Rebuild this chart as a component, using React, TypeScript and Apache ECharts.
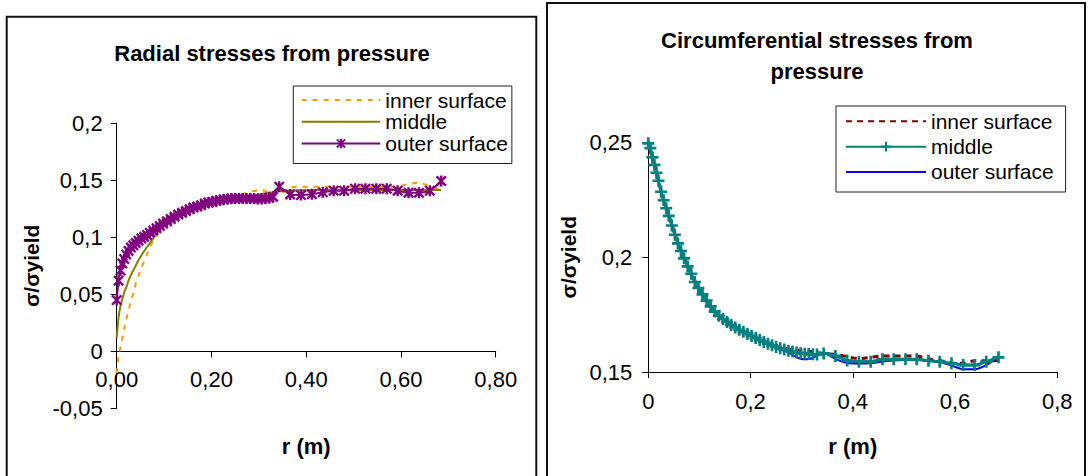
import { useEffect, useRef } from "react";
import * as echarts from "echarts";

const FONT = '"Liberation Sans", Arial, sans-serif';

// radius values (m), shared by both charts
const R = [
  0, 0.004, 0.008, 0.012, 0.016, 0.02, 0.025, 0.03,
  0.035, 0.04, 0.046, 0.052, 0.058, 0.064, 0.07, 0.077,
  0.084, 0.091, 0.098, 0.106, 0.114, 0.122, 0.13, 0.138,
  0.146, 0.154, 0.162, 0.17, 0.178, 0.186, 0.194, 0.202,
  0.21, 0.218, 0.226, 0.234, 0.242, 0.25, 0.258, 0.266,
  0.274, 0.282, 0.29, 0.298, 0.306, 0.314, 0.322, 0.33,
  0.343, 0.366, 0.389, 0.412, 0.435, 0.458, 0.48, 0.503,
  0.525, 0.548, 0.57, 0.593, 0.616, 0.638, 0.661, 0.685,
];

const SERIES_NAMES = ["inner surface", "middle", "outer surface"];

// Radial stresses from pressure
const RADIAL_INNER = [
  -0.019, -0.004, 0.004, 0.012, 0.02, 0.028, 0.036, 0.044,
  0.051, 0.059, 0.066, 0.073, 0.079, 0.085, 0.0915, 0.097,
  0.101, 0.1065, 0.11, 0.1145, 0.117, 0.119, 0.121, 0.1225,
  0.124, 0.125, 0.1265, 0.1275, 0.1285, 0.1295, 0.1305, 0.1315,
  0.1325, 0.133, 0.134, 0.1345, 0.135, 0.136, 0.137, 0.138,
  0.139, 0.1395, 0.1405, 0.141, 0.1412, 0.1405, 0.138, 0.136,
  0.137, 0.1435, 0.1443, 0.1443, 0.1443, 0.1443, 0.1443, 0.1443,
  0.1443, 0.1443, 0.1443, 0.1443, 0.1467, 0.1478, 0.1445, 0.142,
];
const RADIAL_MIDDLE = [
  0.012, 0.03, 0.04, 0.046, 0.052, 0.056, 0.062, 0.067,
  0.071, 0.075, 0.08, 0.084, 0.088, 0.0915, 0.095, 0.099,
  0.1035, 0.107, 0.1105, 0.113, 0.115, 0.117, 0.119, 0.1205,
  0.122, 0.1235, 0.125, 0.126, 0.127, 0.1285, 0.1295, 0.1305,
  0.1315, 0.132, 0.1325, 0.133, 0.1335, 0.134, 0.1345, 0.135,
  0.1355, 0.136, 0.1365, 0.137, 0.138, 0.1385, 0.139, 0.1395,
  0.1405, 0.141, 0.1412, 0.1414, 0.1415, 0.1415, 0.1415, 0.1415,
  0.1415, 0.1415, 0.1415, 0.1415, 0.1415, 0.1415, 0.1415, 0.1415,
];
const RADIAL_OUTER = [
  0.045, 0.062, 0.071, 0.077, 0.081, 0.085, 0.088, 0.091,
  0.093, 0.095, 0.097, 0.099, 0.1005, 0.102, 0.104, 0.106,
  0.108, 0.11, 0.112, 0.114, 0.116, 0.118, 0.12, 0.1215,
  0.123, 0.1245, 0.126, 0.127, 0.128, 0.1295, 0.1305, 0.131,
  0.132, 0.1325, 0.133, 0.1335, 0.134, 0.134, 0.134, 0.134,
  0.134, 0.134, 0.134, 0.1335, 0.1335, 0.134, 0.1345, 0.1355,
  0.1443, 0.1375, 0.137, 0.1377, 0.1394, 0.1408, 0.1408, 0.1426,
  0.1426, 0.1426, 0.1426, 0.1408, 0.139, 0.139, 0.1408, 0.1493,
];

// Circumferential stresses from pressure
const CIRC_INNER = [
  0.2503, 0.248, 0.244, 0.2407, 0.2373, 0.2338, 0.229, 0.2253,
  0.2218, 0.2185, 0.2143, 0.2103, 0.2065, 0.2032, 0.2, 0.1965,
  0.1933, 0.1897, 0.187, 0.1842, 0.1815, 0.179, 0.1767, 0.1749,
  0.1735, 0.1722, 0.1709, 0.1698, 0.1688, 0.1679, 0.167, 0.1661,
  0.1652, 0.1643, 0.1635, 0.1627, 0.162, 0.1613, 0.1607, 0.1603,
  0.16, 0.1598, 0.1596, 0.1594, 0.1592, 0.159, 0.1588, 0.1585,
  0.158, 0.1577, 0.1567, 0.1558, 0.1564, 0.157, 0.157, 0.157,
  0.157, 0.1557, 0.155, 0.1538, 0.1538, 0.1549, 0.1549, 0.155,
];
const CIRC_MIDDLE = [
  0.2496, 0.2475, 0.2435, 0.2402, 0.2368, 0.2333, 0.2285, 0.2248,
  0.2213, 0.218, 0.2138, 0.2098, 0.206, 0.2027, 0.1995, 0.196,
  0.1928, 0.1892, 0.1866, 0.1838, 0.1811, 0.1786, 0.1763, 0.1745,
  0.1731, 0.1718, 0.1705, 0.1694, 0.1684, 0.1675, 0.1666, 0.1657,
  0.1648, 0.1639, 0.1631, 0.1623, 0.1616, 0.1609, 0.1603, 0.1598,
  0.1593, 0.1589, 0.1585, 0.1582, 0.158, 0.1578, 0.1577, 0.1576,
  0.1581, 0.157, 0.155, 0.1545, 0.1545, 0.1555, 0.1555, 0.1555,
  0.1555, 0.1549, 0.1545, 0.1538, 0.153, 0.153, 0.1545, 0.1564,
];
const CIRC_OUTER = [
  0.2492, 0.247, 0.243, 0.2398, 0.2364, 0.2328, 0.2282, 0.2245,
  0.221, 0.2177, 0.2136, 0.2096, 0.2058, 0.2025, 0.1993, 0.1958,
  0.1926, 0.189, 0.1864, 0.1836, 0.181, 0.1785, 0.1762, 0.1744,
  0.173, 0.1717, 0.1704, 0.1693, 0.1683, 0.1674, 0.1665, 0.1656,
  0.1647, 0.1638, 0.163, 0.1622, 0.1615, 0.1607, 0.16, 0.1593,
  0.1585, 0.1575, 0.1565, 0.1558, 0.1555, 0.1556, 0.1562, 0.1572,
  0.1584, 0.1557, 0.1539, 0.1537, 0.1538, 0.1546, 0.155, 0.1552,
  0.1552, 0.155, 0.1545, 0.1528, 0.1512, 0.1512, 0.153, 0.1567,
];

// tick labels
const RADIAL_X_TICKS = [0, 0.2, 0.4, 0.6, 0.8];
const RADIAL_X_LABELS = ["0,00", "0,20", "0,40", "0,60", "0,80"];
const RADIAL_Y_TICKS = [-0.05, 0, 0.05, 0.1, 0.15, 0.2];
const RADIAL_Y_LABELS = ["-0,05", "0", "0,05", "0,1", "0,15", "0,2"];
const CIRC_X_TICKS = [0, 0.2, 0.4, 0.6, 0.8];
const CIRC_X_LABELS = ["0", "0,2", "0,4", "0,6", "0,8"];
const CIRC_Y_TICKS = [0.15, 0.2, 0.25];
const CIRC_Y_LABELS = ["0,15", "0,2", "0,25"];

const ASTERISK =
  "path://M3.9,0H6.1V10H3.9ZM0,1.5L1.5,0L10,8.5L8.5,10ZM8.5,0L10,1.5L1.5,10L0,8.5Z";
const PLUS = "path://M3.9,0H6.1V10H3.9ZM0,3.9H10V6.1H0Z";

const pairs = (ys: number[]) => R.map((r, i) => [r, ys[i]]);
const fmt = (ticks: number[], labels: string[]) => (v: number) => {
  const i = ticks.findIndex((t) => Math.abs(t - v) < 1e-9);
  return i >= 0 ? labels[i] : "";
};

const axisCommon = {
  axisLine: { onZero: false, lineStyle: { color: "#000", width: 1 } },
  axisTick: { length: 6, lineStyle: { color: "#000", width: 1 } },
  splitLine: { show: false },
};

const hiddenSymbol = { opacity: 0, color: "rgba(0,0,0,0)", borderWidth: 0 };

// left grid geometry (px)
const L_GRID = { left: 116.7, top: 123.1, width: 379, height: 285.5 };
const L_YMIN = -0.05;
const L_YMAX = 0.2;
// x axis of the radial chart crosses the y axis at 0
const L_XAXIS_OFFSET = -(L_GRID.height * (0 - L_YMIN)) / (L_YMAX - L_YMIN);

function leftOption(): any {
  return {
    animation: false,
    backgroundColor: "#fff",
    title: {
      text: "Radial stresses from pressure",
      left: "center",
      top: 42,
      padding: 0,
      textStyle: { fontFamily: FONT, fontSize: 22, fontWeight: "bold", color: "#000" },
    },
    graphic: [
      {
        type: "rect",
        shape: { x: 6.7, y: 16.7, width: 529.6, height: 480 },
        style: { fill: "none", stroke: "#111", lineWidth: 2 },
        z: -10,
        silent: true,
      },
    ],
    legend: {
      orient: "vertical",
      left: 293.3,
      top: 86,
      padding: [3.2, 4, 9.2, 7.4],
      itemGap: 0,
      itemWidth: 78.6,
      itemHeight: 12,
      borderColor: "#222",
      borderWidth: 1,
      backgroundColor: "#fff",
      selectedMode: false,
      textStyle: { fontFamily: FONT, fontSize: 21, color: "#000", lineHeight: 21.7 },
      data: [
        { name: SERIES_NAMES[0], itemStyle: hiddenSymbol },
        { name: SERIES_NAMES[1], itemStyle: hiddenSymbol },
        { name: SERIES_NAMES[2] },
      ],
    },
    grid: {
      ...L_GRID,
      containLabel: false,
      outerBoundsMode: "none",
    },
    xAxis: {
      type: "value",
      min: 0,
      max: 0.8,
      interval: 0.2,
      position: "bottom",
      offset: L_XAXIS_OFFSET,
      ...axisCommon,
      axisLabel: {
        margin: 17,
        fontFamily: FONT,
        fontSize: 22,
        color: "#000",
        formatter: fmt(RADIAL_X_TICKS, RADIAL_X_LABELS),
      },
      name: "r (m)",
      nameLocation: "middle",
      nameGap: 84,
      nameTextStyle: { fontFamily: FONT, fontSize: 22, fontWeight: "bold", color: "#000" },
    },
    yAxis: {
      type: "value",
      min: L_YMIN,
      max: L_YMAX,
      interval: 0.05,
      ...axisCommon,
      axisLabel: {
        margin: 14,
        fontFamily: FONT,
        fontSize: 22,
        color: "#000",
        formatter: fmt(RADIAL_Y_TICKS, RADIAL_Y_LABELS),
      },
      name: "σ/σyield",
      nameLocation: "middle",
      nameRotate: 90,
      nameGap: 63,
      nameTextStyle: { fontFamily: FONT, fontSize: 21, fontWeight: "bold", color: "#000" },
    },
    series: [
      {
        name: SERIES_NAMES[0],
        type: "line",
        data: pairs(RADIAL_INNER),
        symbol: "none",
        smooth: 0.2,
        lineStyle: { color: "#FF9900", width: 2, type: [5, 6] },
        itemStyle: { color: "#FF9900" },
        z: 2,
      },
      {
        name: SERIES_NAMES[1],
        type: "line",
        data: pairs(RADIAL_MIDDLE),
        symbol: "none",
        smooth: 0.2,
        lineStyle: { color: "#808000", width: 2 },
        itemStyle: { color: "#808000" },
        z: 3,
      },
      {
        name: SERIES_NAMES[2],
        type: "line",
        data: pairs(RADIAL_OUTER),
        symbol: ASTERISK,
        symbolSize: 11,
        showSymbol: true,
        smooth: 0.2,
        lineStyle: { color: "#800080", width: 2 },
        itemStyle: { color: "#800080", borderWidth: 0 },
        z: 4,
      },
    ],
  };
}

function rightOption(): any {
  return {
    animation: false,
    backgroundColor: "#fff",
    title: {
      text: "Circumferential stresses from\npressure",
      left: "center",
      top: 25,
      padding: 0,
      textStyle: {
        fontFamily: FONT,
        fontSize: 22,
        fontWeight: "bold",
        color: "#000",
        lineHeight: 31,
      },
    },
    graphic: [
      {
        type: "rect",
        shape: { x: 1, y: 3, width: 538, height: 490 },
        style: { fill: "none", stroke: "#111", lineWidth: 2 },
        z: -10,
        silent: true,
      },
    ],
    legend: {
      orient: "vertical",
      left: 290,
      top: 106,
      padding: [2.7, 12, 7.4, 9],
      itemGap: 0,
      itemWidth: 80,
      itemHeight: 12,
      borderColor: "#222",
      borderWidth: 1,
      backgroundColor: "#fff",
      selectedMode: false,
      textStyle: { fontFamily: FONT, fontSize: 21, color: "#000", lineHeight: 25.3 },
      data: [
        { name: SERIES_NAMES[0], itemStyle: hiddenSymbol },
        { name: SERIES_NAMES[1] },
        { name: SERIES_NAMES[2], itemStyle: hiddenSymbol },
      ],
    },
    grid: {
      left: 102.3,
      top: 142.4,
      width: 409,
      height: 229.6,
      containLabel: false,
      outerBoundsMode: "none",
    },
    xAxis: {
      type: "value",
      min: 0,
      max: 0.8,
      interval: 0.2,
      ...axisCommon,
      axisLabel: {
        margin: 18,
        fontFamily: FONT,
        fontSize: 22,
        color: "#000",
        formatter: fmt(CIRC_X_TICKS, CIRC_X_LABELS),
      },
      name: "r (m)",
      nameLocation: "middle",
      nameGap: 63,
      nameTextStyle: { fontFamily: FONT, fontSize: 22, fontWeight: "bold", color: "#000" },
    },
    yAxis: {
      type: "value",
      min: 0.15,
      max: 0.25,
      interval: 0.05,
      ...axisCommon,
      axisLabel: {
        margin: 16,
        fontFamily: FONT,
        fontSize: 22,
        color: "#000",
        formatter: fmt(CIRC_Y_TICKS, CIRC_Y_LABELS),
      },
      name: "σ/σyield",
      nameLocation: "middle",
      nameRotate: 90,
      nameGap: 53,
      nameTextStyle: { fontFamily: FONT, fontSize: 21, fontWeight: "bold", color: "#000" },
    },
    series: [
      {
        name: SERIES_NAMES[0],
        type: "line",
        data: pairs(CIRC_INNER),
        symbol: "none",
        smooth: 0.2,
        lineStyle: { color: "#800000", width: 3, type: [6, 5] },
        itemStyle: { color: "#800000" },
        z: 2,
      },
      {
        name: SERIES_NAMES[1],
        type: "line",
        data: pairs(CIRC_MIDDLE),
        symbol: PLUS,
        symbolSize: 12,
        showSymbol: true,
        smooth: 0.2,
        lineStyle: { color: "#008080", width: 3 },
        itemStyle: { color: "#008080", borderWidth: 0 },
        z: 4,
      },
      {
        name: SERIES_NAMES[2],
        type: "line",
        data: pairs(CIRC_OUTER),
        symbol: "none",
        smooth: 0.2,
        lineStyle: { color: "#0000FF", width: 2 },
        itemStyle: { color: "#0000FF" },
        z: 3,
      },
    ],
  };
}

export default function App() {
  const leftRef = useRef<HTMLDivElement>(null);
  const rightRef = useRef<HTMLDivElement>(null);

  useEffect(() => {
    const l = echarts.init(leftRef.current!, null, { renderer: "svg" });
    const r = echarts.init(rightRef.current!, null, { renderer: "svg" });
    l.setOption(leftOption());
    r.setOption(rightOption());
    return () => {
      l.dispose();
      r.dispose();
    };
  }, []);

  return (
    <div
      style={{
        position: "fixed",
        left: 0,
        top: 0,
        width: 1088,
        height: 476,
        background: "#fff",
        overflow: "hidden",
      }}
    >
      <div ref={leftRef} style={{ position: "absolute", left: 0, top: 0, width: 544, height: 476 }} />
      <div ref={rightRef} style={{ position: "absolute", left: 546, top: 0, width: 542, height: 476 }} />
    </div>
  );
}
